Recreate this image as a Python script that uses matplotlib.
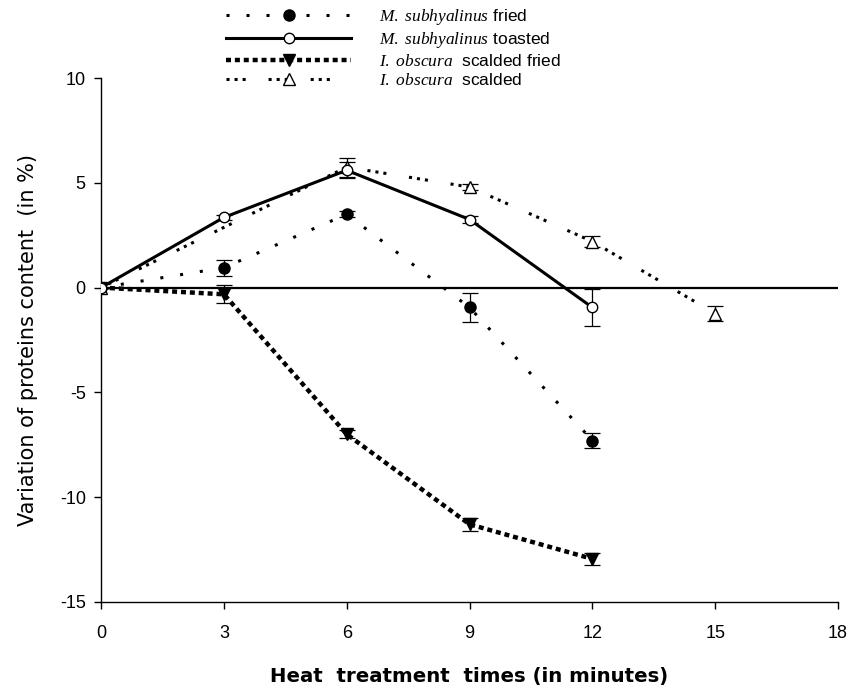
import numpy as np
import matplotlib
matplotlib.use("Agg")
import matplotlib.pyplot as plt

plt.rcParams['font.family'] = ['Liberation Sans', 'DejaVu Sans']
plt.rcParams['mathtext.fontset'] = 'custom'
plt.rcParams['mathtext.it'] = 'Liberation Serif:italic'
plt.rcParams['mathtext.rm'] = 'Liberation Serif'
plt.rcParams['axes.unicode_minus'] = False
plt.rcParams['lines.scale_dashes'] = False

# heat treatment times (min)
t_fried = [0, 3, 6, 9, 12]
t_toast = [0, 3, 6, 9, 12]
t_scfr = [0, 3, 6, 9, 12]
t_scal = [0, 6, 9, 12, 15]

# variation of proteins content (%) and error
fried = [0.0, 0.95, 3.5, -0.95, -7.3]
fried_err = [0.0, 0.39, 0.15, 0.7, 0.35]
toast = [0.0, 3.35, 5.6, 3.25, -0.95]
toast_err = [0.0, 0.1, 0.38, 0.15, 0.9]
scfr = [0.0, -0.32, -7.0, -11.3, -12.95]
scfr_err = [0.0, 0.43, 0.2, 0.32, 0.28]
scal = [0.0, 5.75, 4.8, 2.2, -1.24]
scal_err = [0.0, 0.45, 0.15, 0.27, 0.35]

labels = [r'$\mathit{M.\ subhyalinus}$ fried',
          r'$\mathit{M.\ subhyalinus}$ toasted',
          r'$\mathit{I.\ obscura}$  scalded fried',
          r'$\mathit{I.\ obscura}$  scalded']

fig = plt.figure(figsize=(8.64, 6.91), dpi=100)
ax = fig.add_axes([0.117, 0.129, 0.853, 0.758])

ax.axhline(0, color='k', lw=1.6, zorder=1)

ebkw = dict(fmt='none', ecolor='k', elinewidth=0.9, capsize=5.8, capthick=0.9, zorder=2)
ax.errorbar(t_fried, fried, yerr=fried_err, **ebkw)
ax.errorbar(t_toast, toast, yerr=toast_err, **ebkw)
ax.errorbar(t_scfr, scfr, yerr=scfr_err, **ebkw)
ax.errorbar(t_scal, scal, yerr=scal_err, **ebkw)

# dash patterns in points
l1, = ax.plot(t_fried, fried, color='k', lw=2.2, dashes=(2.2, 12.2),
              marker='o', ms=8, mfc='k', mec='k', label=labels[0], zorder=3)
l2, = ax.plot(t_toast, toast, color='k', lw=2.2, ls='-',
              marker='o', ms=7.5, mfc='white', mec='k', mew=1.0, label=labels[1], zorder=4)
l3, = ax.plot(t_scfr, scfr, color='k', lw=3.2, dashes=(3.6, 2.8),
              marker='v', ms=9, mfc='k', mec='k', label=labels[2], zorder=3)
l4, = ax.plot(t_scal, scal, color='k', lw=2.2,
              dashes=(2.2, 3.6, 2.2, 3.6, 2.2, 16.5),
              marker='^', ms=9, mfc='white', mec='k', mew=1.0, label=labels[3], zorder=3)
for ln in (l1, l3, l4):
    ln.set_dash_capstyle('butt')

ax.set_xlim(0, 18)
ax.set_ylim(-15, 10)
ax.set_xticks(np.arange(0, 19, 3))
ax.set_yticks(np.arange(-15, 11, 5))
ax.spines['top'].set_visible(False)
ax.spines['right'].set_visible(False)
ax.spines['left'].set_linewidth(1.0)
ax.spines['bottom'].set_linewidth(1.0)
ax.tick_params(direction='out', length=5, width=1.0, labelsize=13)
ax.tick_params(axis='x', pad=12)
ax.tick_params(axis='y', pad=6)

# axis titles are wide in the original, DejaVu gets the length closer
ax.set_xlabel('Heat  treatment  times (in minutes)', fontsize=14.2, fontweight='bold',
              family='DejaVu Sans', labelpad=18)
ax.set_ylabel('Variation of proteins content  (in %)', fontsize=15,
              family='DejaVu Sans', labelpad=16)

fig.legend(handles=[l1, l2, l3, l4], loc='upper left', bbox_to_anchor=(0.262, 0.99),
           frameon=False, fontsize=12.5, handlelength=7.2, handletextpad=1.6,
           labelspacing=0.17, borderpad=0, borderaxespad=0, numpoints=1)

fig.savefig('out.png', dpi=100)
